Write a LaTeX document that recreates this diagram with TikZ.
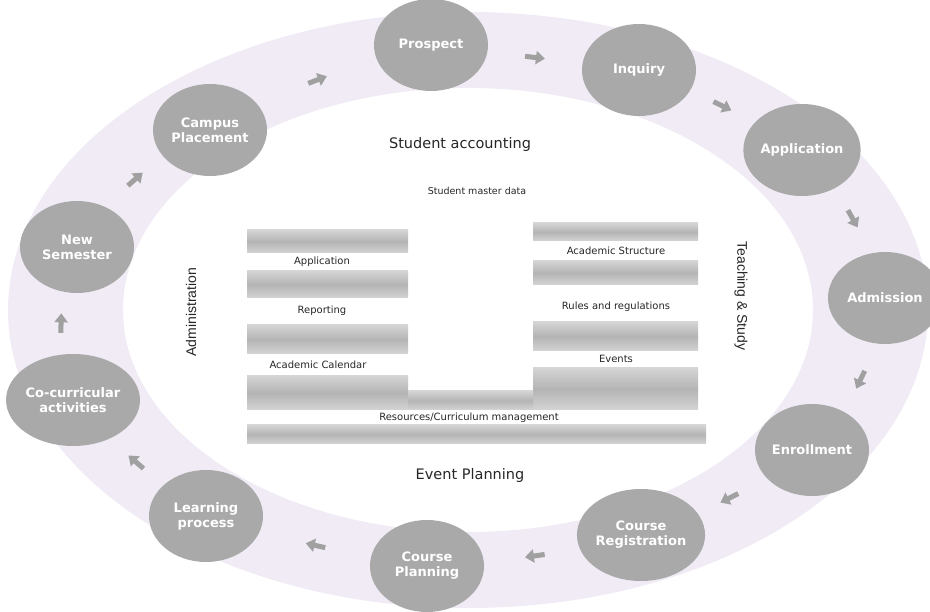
\documentclass[tikz,border=0pt]{standalone}
\usepackage{fontspec}
\setmainfont{DejaVu Sans}
\newfontfamily\narrowsans{Liberation Sans}
\usetikzlibrary{shapes.geometric,arrows.meta,calc}

\definecolor{ringlav}{HTML}{F0EBF5}
\definecolor{stagegray}{HTML}{A9A9A9}
\definecolor{flowgray}{HTML}{A0A0A0}
\definecolor{stripemid}{HTML}{B4B4B4}
\definecolor{stripeedge}{HTML}{D4D4D4}

\begin{document}
\begin{tikzpicture}[x=1pt,y=-1pt,
    stage/.style={ellipse,fill=stagegray,minimum width=114pt,minimum height=92pt,inner sep=0pt,align=center,text=white,font=\fontsize{13}{15}\selectfont\bfseries},
    flow/.style={draw=flowgray,line width=5pt,-{Triangle[length=9pt,width=13pt]}},
    stripe/.style={top color=stripeedge,bottom color=stripeedge,middle color=stripemid},
    stripetxt/.style={font=\fontsize{10}{12}\selectfont,text=black!85},
    heading/.style={font=\fontsize{14.5}{17}\selectfont,text=black!85},
    sidelabel/.style={font=\narrowsans\fontsize{14}{16}\selectfont,text=black!85}]

    \useasboundingbox (0,0) rectangle (930,612);

    % ring
    \fill[ringlav,even odd rule] (468,310) ellipse [x radius=460pt,y radius=298pt]
        (468,310) ellipse [x radius=345pt,y radius=222pt];

    % stages
    \node[stage] (prospect) at (431,45) {Prospect};
    \node[stage] (inquiry) at (639,70) {Inquiry};
    \node[stage] (application) at (802,150) {Application};
    \node[stage] (admission) at (885,298) {Admission};
    \node[stage] (enrollment) at (812,450) {Enrollment};
    \node[stage] (coursereg) at (641,535) {Course\\Registration};
    \node[stage] (courseplan) at (427,566) {Course\\Planning};
    \node[stage] (learning) at (206,516) {Learning\\process};
    \node[stage] (cocurr) at (73,400) {Co-curricular\\activities};
    \node[stage] (newsem) at (77,247) {New\\Semester};
    \node[stage] (campus) at (210,130) {Campus\\Placement};

    \foreach \a/\b/\s in {campus/prospect/9pt, prospect/inquiry/0pt, inquiry/application/5pt,
        application/admission/12pt, admission/enrollment/15pt, enrollment/coursereg/7pt,
        coursereg/courseplan/6pt, courseplan/learning/5pt, learning/cocurr/6pt,
        cocurr/newsem/16pt, newsem/campus/14pt}
    {
        \coordinate (mid) at ($(\a)!0.5!(\b)$);
        \coordinate (mid) at ($(mid)!\s!90:(\b)$);
        \draw[flow] ($(mid)!10pt!(\a)$) -- ($(mid)!10pt!(\b)$);
    }

    % stripes
    \foreach \t/\b in {230/253, 271/298, 325/354, 376/410}
        \shade[stripe] (247,\t) rectangle (408,\b);
    \foreach \t/\b in {223/241, 261/285, 322/351, 368/410}
        \shade[stripe] (533,\t) rectangle (698,\b);
    \shade[stripe] (408,391) rectangle (533,410);
    \shade[stripe] (247,425) rectangle (706,444);

    \node[stripetxt] (lapp) at (322,262) {Application};
    \node[stripetxt] (lrep) at (322,311) {Reporting};
    \node[stripetxt] (lcal) at (318,365) {Academic Calendar};
    \node[stripetxt] (racs) at (616,251) {Academic Structure};
    \node[stripetxt] (rrul) at (616,307) {Rules and regulations};
    \node[stripetxt] (revt) at (616,359) {Events};
    \node[stripetxt] (rescur) at (469,418) {Resources/Curriculum management};

    % labels
    \node[heading] (acct) at (460,145) {Student accounting};
    \node[stripetxt,font=\fontsize{9.5}{11}\selectfont] (master) at (477,191) {Student master data};
    \node[heading] (evplan) at (470,476) {Event Planning};
    \node[sidelabel,rotate=90] (admin) at (191,312) {Administration};
    \node[sidelabel,rotate=-90] (teach) at (741,296) {Teaching \& Study};
\end{tikzpicture}
\end{document}
